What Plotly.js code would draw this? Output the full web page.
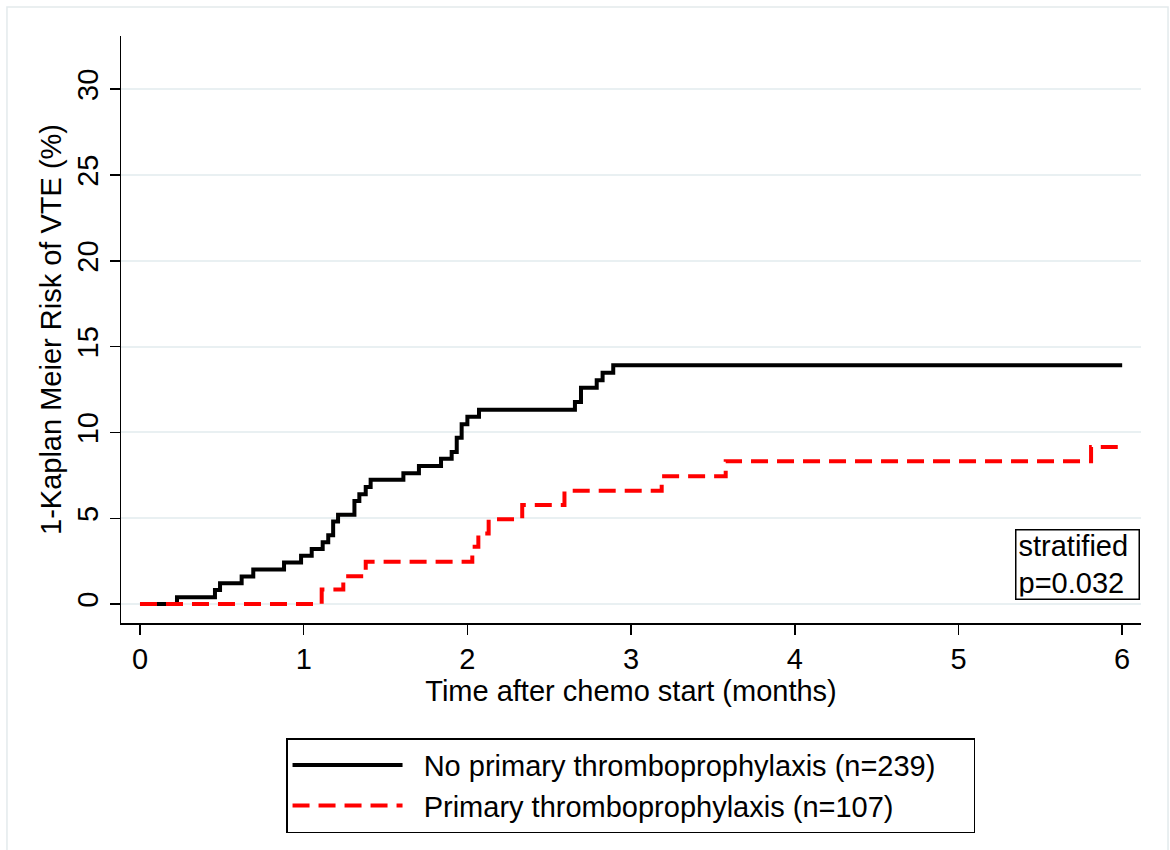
<!DOCTYPE html>
<html>
<head>
<meta charset="utf-8">
<script src="https://cdn.plot.ly/plotly-3.0.1.min.js"></script>
<style>html,body{margin:0;padding:0;background:#fff;}#chart{width:1170px;height:850px;}</style>
</head>
<body>
<div id="chart"></div>
<script>
// Time after chemo start (months) and cumulative risk (%) at each step
var noProphTime = [0, 0.226, 0.458, 0.489, 0.621, 0.692, 0.88, 0.984, 1.049, 1.116, 1.15, 1.18, 1.21, 1.31, 1.34, 1.379, 1.409, 1.609, 1.704, 1.839, 1.904, 1.935, 1.965, 2.0, 2.071, 2.657, 2.694, 2.79, 2.826, 2.891, 6.0];
var noProphRisk = [0, 0.40, 0.82, 1.22, 1.61, 2.01, 2.43, 2.82, 3.21, 3.60, 4.01, 4.81, 5.21, 6.01, 6.40, 6.83, 7.24, 7.63, 8.05, 8.47, 8.87, 9.69, 10.48, 10.91, 11.33, 11.77, 12.60, 13.04, 13.48, 13.92, 13.92];
var prophTime = [0, 1.11, 1.242, 1.379, 2.03, 2.067, 2.13, 2.335, 2.593, 3.187, 3.578, 5.81, 6.0];
var prophRisk = [0, 0.85, 1.62, 2.47, 3.34, 4.12, 4.95, 5.78, 6.6, 7.45, 8.33, 9.16, 9.16];
var seriesNames = ["No primary thromboprophylaxis (n=239)", "Primary thromboprophylaxis (n=107)"];
var xTicks = [0, 1, 2, 3, 4, 5, 6];
var yTicks = [0, 5, 10, 15, 20, 25, 30];
var annotationText = "stratified<br>p=0.032";

var font = "Liberation Sans, Arial, Helvetica, sans-serif";
var pad = "&nbsp;&nbsp;";

var traces = [
  {x: noProphTime, y: noProphRisk, type: "scatter", mode: "lines", name: pad + seriesNames[0] + pad + pad,
   line: {shape: "hv", color: "#000000", width: 4}},
  {x: prophTime, y: prophRisk, type: "scatter", mode: "lines", name: pad + seriesNames[1] + pad,
   line: {shape: "hv", color: "#ff0000", width: 4, dash: "17px,9px"}}
];

var layout = {
  width: 1170, height: 850,
  margin: {l: 121, r: 29, t: 36, b: 227},
  paper_bgcolor: "#ffffff", plot_bgcolor: "#ffffff",
  font: {family: font, size: 29, color: "#000000"},
  showlegend: true,
  legend: {
    x: 0.1618, y: -0.196, xanchor: "left", yanchor: "top",
    orientation: "v", bordercolor: "#000000", borderwidth: 1.5,
    bgcolor: "#ffffff", itemwidth: 110, tracegroupgap: 0,
    font: {family: font, size: 29, color: "#000000"}
  },
  xaxis: {
    range: [-0.116, 6.115], tickvals: xTicks, ticktext: xTicks.map(String),
    ticks: "outside", ticklen: 10, tickwidth: 1.5, tickcolor: "#000000",
    showline: true, linewidth: 1.5, linecolor: "#000000", mirror: false,
    showgrid: false, zeroline: false,
    tickfont: {family: font, size: 29, color: "#000000"},
    title: {text: "Time after chemo start (months)", font: {family: font, size: 29, color: "#000000"}, standoff: 6}
  },
  yaxis: {
    range: [-1.1, 33.1], tickvals: yTicks, ticktext: yTicks.map(String), tickangle: -90,
    ticks: "outside", ticklen: 10, tickwidth: 1.5, tickcolor: "#000000",
    showline: true, linewidth: 1.5, linecolor: "#000000",
    showgrid: true, gridcolor: "#e9f0f2", gridwidth: 2, zeroline: false,
    tickfont: {family: font, size: 29, color: "#000000"},
    title: {text: "1-Kaplan Meier Risk of VTE (%)", font: {family: font, size: 29, color: "#000000"}, standoff: 2}
  },
  annotations: [{
    text: annotationText, xref: "paper", yref: "y", x: 0.999, y: 0.23,
    xanchor: "right", yanchor: "bottom", align: "left", showarrow: false,
    width: 118, height: 64,
    bordercolor: "#000000", borderwidth: 1.5, borderpad: 2, bgcolor: "#ffffff",
    font: {family: font, size: 29, color: "#000000"}
  }],
  shapes: [{
    type: "rect", xref: "paper", yref: "paper", layer: "below",
    x0: -0.1118, x1: 1.0265, y0: -0.40, y1: 1.0494,
    line: {color: "#e3eaec", width: 1.5}, fillcolor: "rgba(0,0,0,0)"
  }]
};

Plotly.newPlot("chart", traces, layout, {displayModeBar: false, staticPlot: true});
</script>
</body>
</html>
